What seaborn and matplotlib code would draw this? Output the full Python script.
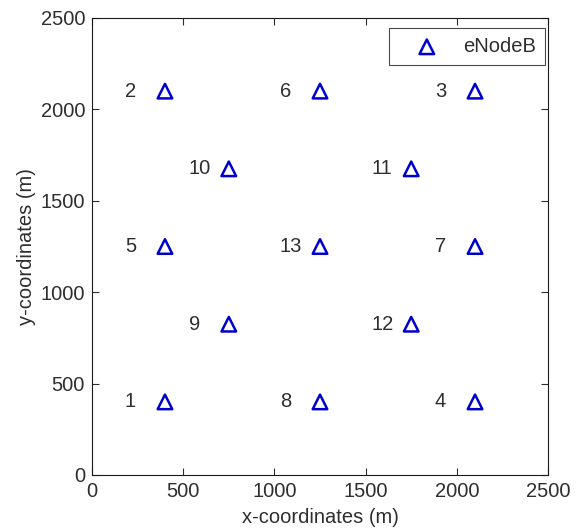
import matplotlib
matplotlib.use("Agg")
import matplotlib.pyplot as plt
import seaborn as sns
import pandas as pd

# eNodeB site positions (m) and their IDs
node_ids = [1, 2, 3, 4, 5, 6, 7, 8, 9, 10, 11, 12, 13]
x_pos = [400, 400, 2100, 2100, 400, 1250, 2100, 1250, 750, 750, 1750, 1750, 1250]
y_pos = [400, 2100, 2100, 400, 1250, 2100, 1250, 400, 825, 1675, 1675, 825, 1250]
ticks = [0, 500, 1000, 1500, 2000, 2500]

df = pd.DataFrame({"id": node_ids, "x": x_pos, "y": y_pos})

sns.set_style("white")
plt.rcParams["font.family"] = ["Liberation Sans", "DejaVu Sans"]
FS = 14.5
INK = "#2e2e2e"
plt.rcParams["font.size"] = FS

fig = plt.figure(figsize=(5.78, 5.29), dpi=100)
ax = fig.add_axes([92 / 578, 1 - 475 / 529, 456 / 578, 457 / 529])

blue = "#0000cc"
sns.scatterplot(data=df, x="x", y="y", marker="^", s=110, ax=ax,
                facecolor="none", edgecolor=blue, linewidth=1.8,
                label="eNodeB")

for i, xx, yy in zip(node_ids, x_pos, y_pos):
    ax.text(xx - 220, yy, str(i), ha="left", va="center", fontsize=FS, color=INK)

ax.set_xlim(0, 2500)
ax.set_ylim(0, 2500)
ax.set_xticks(ticks)
ax.set_yticks(ticks)
ax.set_xlabel("x-coordinates (m)", fontsize=FS, labelpad=5, color=INK)
ax.set_ylabel("y-coordinates (m)", fontsize=FS, labelpad=3, color=INK)
ax.tick_params(direction="in", length=5, width=0.8, top=True, right=True,
               bottom=True, left=True, labelsize=FS, pad=5, colors=INK)
for sp in ax.spines.values():
    sp.set_visible(True)
    sp.set_color("#1a1a1a")
    sp.set_linewidth(0.8)

leg = ax.legend(loc="upper right", frameon=True, fancybox=False, fontsize=FS,
                bbox_to_anchor=(545 / 578, 1 - 28 / 529), bbox_transform=fig.transFigure,
                borderaxespad=0.0, handletextpad=0.35, handlelength=2.9,
                borderpad=0.45, edgecolor="#1a1a1a")
leg.get_frame().set_linewidth(0.8)
for t in leg.get_texts():
    t.set_color(INK)

fig.savefig("out.png", dpi=100, facecolor="white")
